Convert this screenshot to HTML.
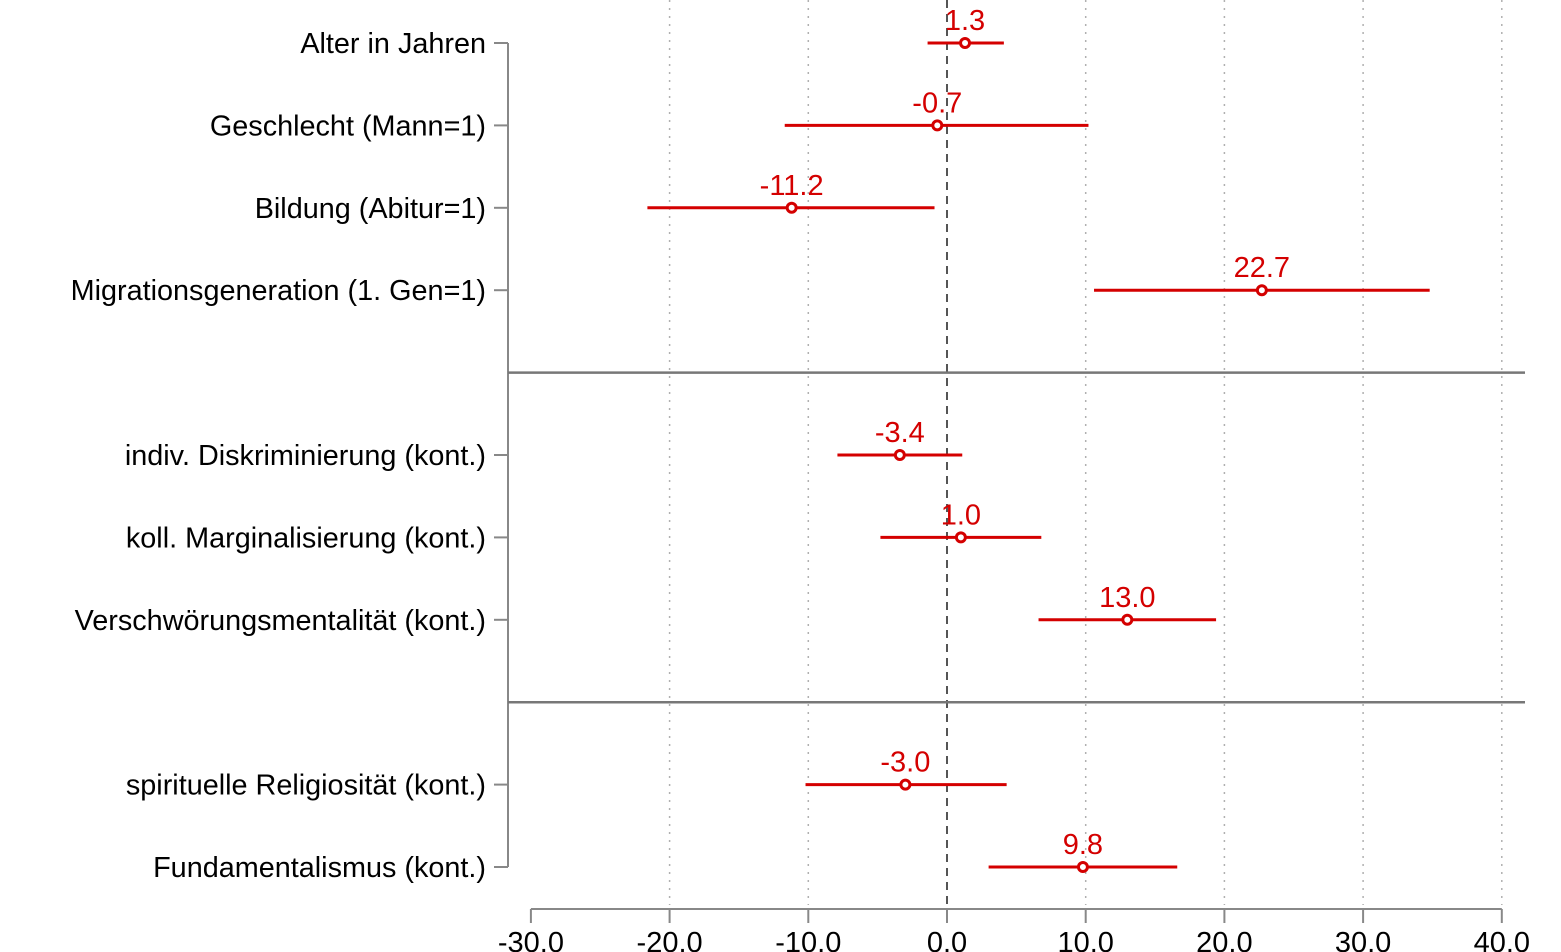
<!DOCTYPE html>
<html><head><meta charset="utf-8"><style>
html,body{margin:0;padding:0;background:#fff}
svg{display:block;font-family:"Liberation Sans",sans-serif}
</style></head><body>
<svg id="chart" width="1561" height="952" viewBox="0 0 1561 952" xmlns="http://www.w3.org/2000/svg">
<g id="grid"></g><g id="axes"></g><g id="marks"></g>
</svg>
<script>
const labels=["Alter in Jahren","Geschlecht (Mann=1)","Bildung (Abitur=1)","Migrationsgeneration (1. Gen=1)","indiv. Diskriminierung (kont.)","koll. Marginalisierung (kont.)","Verschwörungsmentalität (kont.)","spirituelle Religiosität (kont.)","Fundamentalismus (kont.)"];
const estimates=[1.3,-0.7,-11.2,22.7,-3.4,1.0,13.0,-3.0,9.8];
const lower=[-1.4,-11.7,-21.6,10.6,-7.9,-4.8,6.6,-10.2,3.0];
const upper=[4.1,10.2,-0.9,34.8,1.1,6.8,19.4,4.3,16.6];
const rowPos=[0,1,2,3,5,6,7,9,10];
const separators=[4,8];
const xTicks=[-30,-20,-10,0,10,20,30,40];
const NS="http://www.w3.org/2000/svg";
const x=v=>947+v*13.87;
const y=r=>43+r*82.4;
function mk(tag,attrs,parent,text){const e=document.createElementNS(NS,tag);for(const k in attrs)e.setAttribute(k,attrs[k]);if(text!==undefined)e.textContent=text;parent.appendChild(e);return e;}
const grid=document.getElementById('grid'),axes=document.getElementById('axes'),marks=document.getElementById('marks');
xTicks.forEach(t=>{
  if(t!==0&&t!==-30){const l=mk('line',{x1:x(t),x2:x(t),y1:0,y2:905,stroke:'#b0b0b0','stroke-width':1.5,'stroke-dasharray':'2,6'},grid);
  
  }
  const tk=mk('line',{x1:x(t),x2:x(t),y1:909,y2:923,stroke:'#888','stroke-width':2},axes);
  
  
  const tl=mk('text',{x:x(t),y:952,'text-anchor':'middle','font-size':29,fill:'#000'},axes,t.toFixed(1));
  
  
});
const z=mk('line',{x1:x(0),x2:x(0),y1:0,y2:905,stroke:'#555','stroke-width':2,'stroke-dasharray':'8,6'},grid);


const xa=mk('line',{x1:x(-30),x2:x(40),y1:909,y2:909,stroke:'#888','stroke-width':2},axes);


const ya=mk('line',{x1:508,x2:508,y1:y(0),y2:y(10),stroke:'#888','stroke-width':2},axes);


separators.forEach(s=>{const l=mk('line',{x1:508,x2:1525,y1:y(s),y2:y(s),stroke:'#777','stroke-width':2.5},axes);
  
  });
labels.forEach((lab,i)=>{
  const yy=y(rowPos[i]);
  const tk=mk('line',{x1:494,x2:508,y1:yy,y2:yy,stroke:'#888','stroke-width':2},axes);
  
  
  const t=mk('text',{x:486,y:yy+10,'text-anchor':'end','font-size':28.8,fill:'#000'},axes,lab);
  
  
  const ci=mk('line',{x1:x(lower[i]),x2:x(upper[i]),y1:yy,y2:yy,stroke:'#d40000','stroke-width':3},marks);
  
  
  const c=mk('circle',{cx:x(estimates[i]),cy:yy,r:4.5,fill:'#fff',stroke:'#d40000','stroke-width':3},marks);
  
  
  const v=mk('text',{x:x(estimates[i]),y:yy-13,'text-anchor':'middle','font-size':29,fill:'#d40000'},marks,estimates[i].toFixed(1));
  
  
});
</script>
</body></html>
